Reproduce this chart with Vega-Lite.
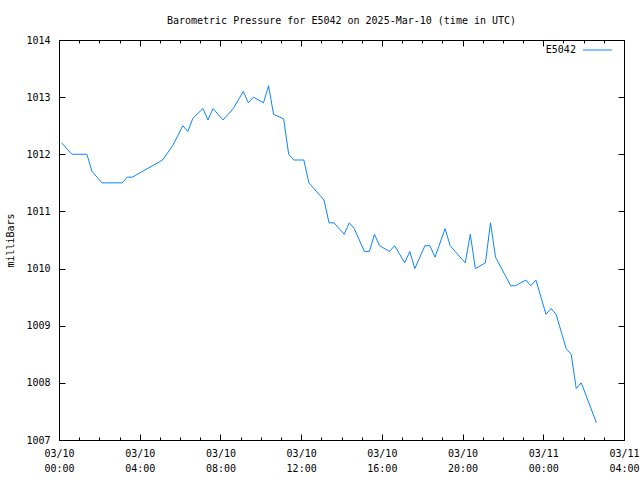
{
  "$schema": "https://vega.github.io/schema/vega-lite/v6.json",
  "width": 565,
  "height": 400,
  "autosize": {"type": "none"},
  "padding": {"left": 59, "top": 40, "right": 16, "bottom": 40},
  "background": "white",
  "title": {
    "text": "Barometric Pressure for E5042 on 2025-Mar-10 (time in UTC)",
    "font": "DejaVu Sans Mono",
    "fontSize": 10,
    "fontWeight": "normal",
    "color": "black",
    "offset": 9
  },
  "config": {
    "view": {"stroke": "black", "strokeWidth": 1},
    "axis": {
      "domain": false,
      "tickColor": "black",
      "tickWidth": 1,
      "labelColor": "black",
      "titleColor": "black",
      "labelFont": "DejaVu Sans Mono",
      "titleFont": "DejaVu Sans Mono",
      "labelFontSize": 10,
      "titleFontSize": 10,
      "titleFontWeight": "normal",
      "grid": false
    }
  },
  "data": {
    "values": [
      {"t": "2025-03-10T00:08:00Z", "p": 1012.2},
      {"t": "2025-03-10T00:38:00Z", "p": 1012.0},
      {"t": "2025-03-10T01:23:00Z", "p": 1012.0},
      {"t": "2025-03-10T01:38:00Z", "p": 1011.7},
      {"t": "2025-03-10T02:08:00Z", "p": 1011.5},
      {"t": "2025-03-10T03:08:00Z", "p": 1011.5},
      {"t": "2025-03-10T03:23:00Z", "p": 1011.6},
      {"t": "2025-03-10T03:38:00Z", "p": 1011.6},
      {"t": "2025-03-10T05:08:00Z", "p": 1011.9},
      {"t": "2025-03-10T05:38:00Z", "p": 1012.15},
      {"t": "2025-03-10T06:08:00Z", "p": 1012.5},
      {"t": "2025-03-10T06:23:00Z", "p": 1012.4},
      {"t": "2025-03-10T06:38:00Z", "p": 1012.63},
      {"t": "2025-03-10T07:08:00Z", "p": 1012.8},
      {"t": "2025-03-10T07:23:00Z", "p": 1012.6},
      {"t": "2025-03-10T07:38:00Z", "p": 1012.8},
      {"t": "2025-03-10T08:08:00Z", "p": 1012.6},
      {"t": "2025-03-10T08:38:00Z", "p": 1012.8},
      {"t": "2025-03-10T09:08:00Z", "p": 1013.1},
      {"t": "2025-03-10T09:23:00Z", "p": 1012.9},
      {"t": "2025-03-10T09:38:00Z", "p": 1013.0},
      {"t": "2025-03-10T10:08:00Z", "p": 1012.9},
      {"t": "2025-03-10T10:23:00Z", "p": 1013.2},
      {"t": "2025-03-10T10:38:00Z", "p": 1012.7},
      {"t": "2025-03-10T11:08:00Z", "p": 1012.62},
      {"t": "2025-03-10T11:23:00Z", "p": 1012.0},
      {"t": "2025-03-10T11:38:00Z", "p": 1011.9},
      {"t": "2025-03-10T12:08:00Z", "p": 1011.9},
      {"t": "2025-03-10T12:23:00Z", "p": 1011.5},
      {"t": "2025-03-10T12:38:00Z", "p": 1011.4},
      {"t": "2025-03-10T13:08:00Z", "p": 1011.2},
      {"t": "2025-03-10T13:23:00Z", "p": 1010.8},
      {"t": "2025-03-10T13:38:00Z", "p": 1010.8},
      {"t": "2025-03-10T14:08:00Z", "p": 1010.6},
      {"t": "2025-03-10T14:23:00Z", "p": 1010.8},
      {"t": "2025-03-10T14:38:00Z", "p": 1010.7},
      {"t": "2025-03-10T15:08:00Z", "p": 1010.3},
      {"t": "2025-03-10T15:23:00Z", "p": 1010.3},
      {"t": "2025-03-10T15:38:00Z", "p": 1010.6},
      {"t": "2025-03-10T15:53:00Z", "p": 1010.4},
      {"t": "2025-03-10T16:23:00Z", "p": 1010.3},
      {"t": "2025-03-10T16:38:00Z", "p": 1010.4},
      {"t": "2025-03-10T17:08:00Z", "p": 1010.1},
      {"t": "2025-03-10T17:23:00Z", "p": 1010.3},
      {"t": "2025-03-10T17:38:00Z", "p": 1010.0},
      {"t": "2025-03-10T18:08:00Z", "p": 1010.4},
      {"t": "2025-03-10T18:23:00Z", "p": 1010.4},
      {"t": "2025-03-10T18:38:00Z", "p": 1010.2},
      {"t": "2025-03-10T19:08:00Z", "p": 1010.7},
      {"t": "2025-03-10T19:23:00Z", "p": 1010.4},
      {"t": "2025-03-10T20:08:00Z", "p": 1010.1},
      {"t": "2025-03-10T20:23:00Z", "p": 1010.6},
      {"t": "2025-03-10T20:38:00Z", "p": 1010.0},
      {"t": "2025-03-10T21:08:00Z", "p": 1010.1},
      {"t": "2025-03-10T21:23:00Z", "p": 1010.8},
      {"t": "2025-03-10T21:38:00Z", "p": 1010.2},
      {"t": "2025-03-10T22:23:00Z", "p": 1009.7},
      {"t": "2025-03-10T22:38:00Z", "p": 1009.7},
      {"t": "2025-03-10T23:08:00Z", "p": 1009.8},
      {"t": "2025-03-10T23:23:00Z", "p": 1009.7},
      {"t": "2025-03-10T23:38:00Z", "p": 1009.8},
      {"t": "2025-03-11T00:08:00Z", "p": 1009.2},
      {"t": "2025-03-11T00:23:00Z", "p": 1009.3},
      {"t": "2025-03-11T00:38:00Z", "p": 1009.2},
      {"t": "2025-03-11T01:08:00Z", "p": 1008.6},
      {"t": "2025-03-11T01:23:00Z", "p": 1008.5},
      {"t": "2025-03-11T01:38:00Z", "p": 1007.9},
      {"t": "2025-03-11T01:53:00Z", "p": 1008.0},
      {"t": "2025-03-11T02:38:00Z", "p": 1007.3}
    ]
  },
  "layer": [
    {
      "mark": {"type": "line", "color": "#0a84ff", "strokeWidth": 1},
      "encoding": {
        "x": {
          "field": "t",
          "type": "temporal",
          "scale": {"type": "utc", "domain": [1741564800000, 1741665600000], "nice": false},
          "axis": {
            "orient": "bottom",
            "title": null,
            "offset": -6,
            "tickSize": 6,
            "values": [1741564800000, 1741579200000, 1741593600000, 1741608000000, 1741622400000, 1741636800000, 1741651200000, 1741665600000],
            "labelExpr": "[utcFormat(datum.value, '%m/%d'), utcFormat(datum.value, '%H:%M')]",
            "labelOverlap": false,
            "labelFlush": false,
            "labelPadding": 8,
            "labelLineHeight": 15
          }
        },
        "y": {
          "field": "p",
          "type": "quantitative",
          "scale": {"domain": [1007, 1014], "zero": false, "nice": false},
          "axis": {
            "orient": "left",
            "title": "milliBars",
            "titlePadding": 10,
            "offset": -6,
            "tickSize": 6,
            "values": [1007, 1008, 1009, 1010, 1011, 1012, 1013, 1014],
            "format": "d",
            "labelPadding": 9
          }
        }
      }
    },
    {
      "mark": {"type": "line", "strokeOpacity": 0},
      "encoding": {
        "x": {
          "field": "t",
          "type": "temporal",
          "scale": {"type": "utc", "domain": [1741564800000, 1741665600000], "nice": false},
          "axis": {
            "orient": "bottom",
            "title": null,
            "labels": false,
            "offset": -3,
            "tickSize": 3,
            "values": [1741564800000, 1741568400000, 1741572000000, 1741575600000, 1741579200000, 1741582800000, 1741586400000, 1741590000000, 1741593600000, 1741597200000, 1741600800000, 1741604400000, 1741608000000, 1741611600000, 1741615200000, 1741618800000, 1741622400000, 1741626000000, 1741629600000, 1741633200000, 1741636800000, 1741640400000, 1741644000000, 1741647600000, 1741651200000, 1741654800000, 1741658400000, 1741662000000, 1741665600000]
          }
        },
        "y": {
          "field": "p",
          "type": "quantitative",
          "scale": {"domain": [1007, 1014], "zero": false, "nice": false},
          "axis": {
            "orient": "right",
            "title": null,
            "labels": false,
            "offset": -6,
            "tickSize": 6,
            "values": [1007, 1008, 1009, 1010, 1011, 1012, 1013, 1014]
          }
        }
      }
    },
    {
      "mark": {"type": "line", "strokeOpacity": 0},
      "encoding": {
        "x": {
          "field": "t",
          "type": "temporal",
          "scale": {"type": "utc", "domain": [1741564800000, 1741665600000], "nice": false},
          "axis": {
            "orient": "top",
            "title": null,
            "labels": false,
            "offset": -3,
            "tickSize": 3,
            "values": [1741564800000, 1741568400000, 1741572000000, 1741575600000, 1741579200000, 1741582800000, 1741586400000, 1741590000000, 1741593600000, 1741597200000, 1741600800000, 1741604400000, 1741608000000, 1741611600000, 1741615200000, 1741618800000, 1741622400000, 1741626000000, 1741629600000, 1741633200000, 1741636800000, 1741640400000, 1741644000000, 1741647600000, 1741651200000, 1741654800000, 1741658400000, 1741662000000, 1741665600000]
          }
        },
        "y": {"field": "p", "type": "quantitative", "scale": {"domain": [1007, 1014], "zero": false, "nice": false}, "axis": null}
      }
    },
    {
      "mark": {"type": "line", "strokeOpacity": 0},
      "encoding": {
        "x": {
          "field": "t",
          "type": "temporal",
          "scale": {"type": "utc", "domain": [1741564800000, 1741665600000], "nice": false},
          "axis": {
            "orient": "top",
            "title": null,
            "labels": false,
            "offset": -6,
            "tickSize": 6,
            "values": [1741564800000, 1741579200000, 1741593600000, 1741608000000, 1741622400000, 1741636800000, 1741651200000, 1741665600000]
          }
        },
        "y": {"field": "p", "type": "quantitative", "scale": {"domain": [1007, 1014], "zero": false, "nice": false}, "axis": null}
      }
    },
    {
      "data": {"values": [{"a": 1741658280000, "b": 1741663440000, "lx": 1741657020000, "p": 1013.825, "name": "E5042"}]},
      "layer": [
        {
          "mark": {"type": "rule", "color": "#0a84ff", "strokeWidth": 1},
          "encoding": {
            "x": {"field": "a", "type": "temporal", "scale": {"type": "utc", "domain": [1741564800000, 1741665600000], "nice": false}, "axis": null},
            "x2": {"field": "b"},
            "y": {"field": "p", "type": "quantitative", "scale": {"domain": [1007, 1014], "zero": false, "nice": false}, "axis": null}
          }
        },
        {
          "mark": {"type": "text", "align": "right", "baseline": "middle", "font": "DejaVu Sans Mono", "fontSize": 10, "color": "black"},
          "encoding": {
            "x": {"field": "lx", "type": "temporal", "scale": {"type": "utc", "domain": [1741564800000, 1741665600000], "nice": false}, "axis": null},
            "y": {"field": "p", "type": "quantitative", "scale": {"domain": [1007, 1014], "zero": false, "nice": false}, "axis": null},
            "text": {"field": "name"}
          }
        }
      ]
    }
  ],
  "resolve": {"axis": {"x": "independent", "y": "independent"}}
}
